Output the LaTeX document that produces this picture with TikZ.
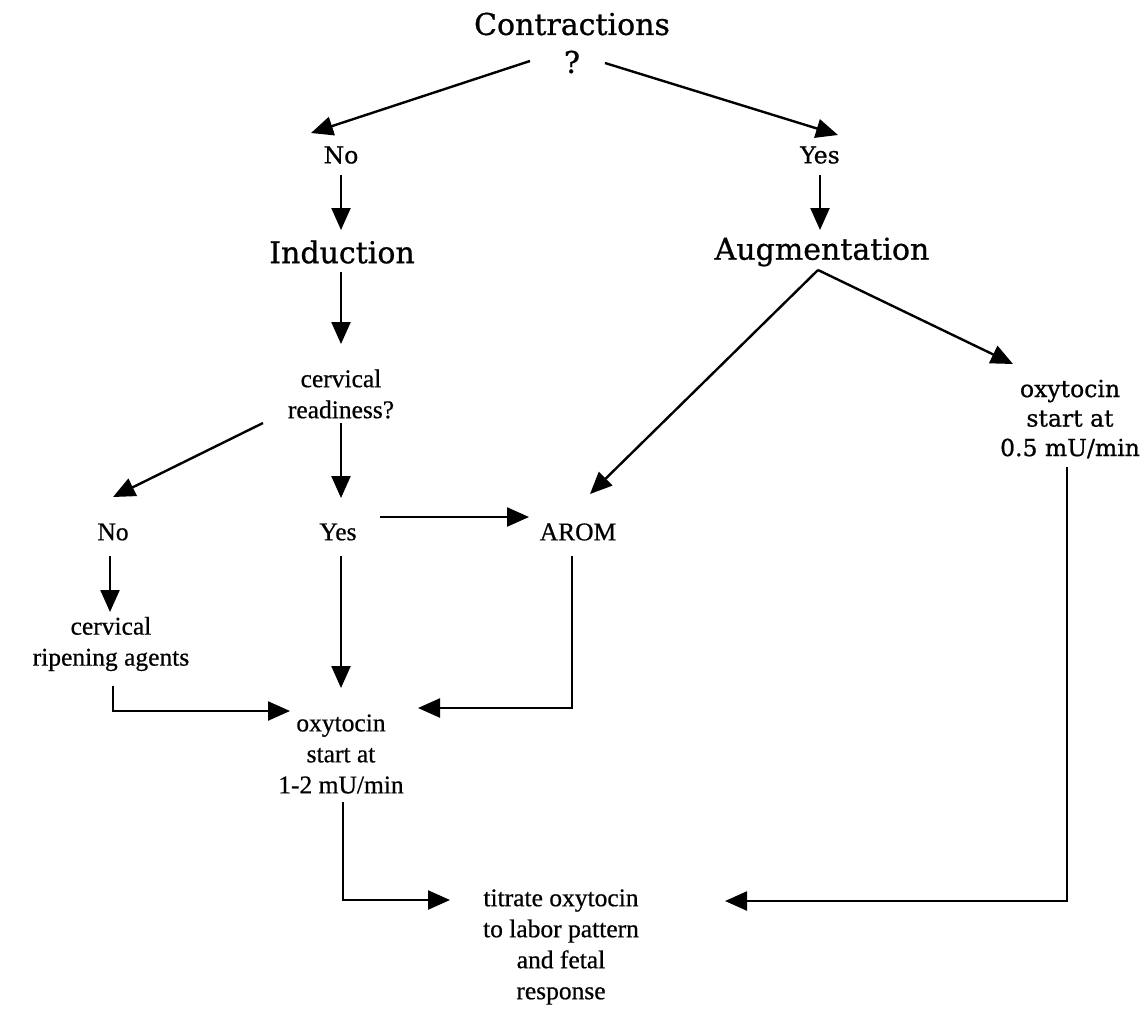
\documentclass[tikz,border=0pt]{standalone}
\usepackage{fontspec}
\setmainfont[FakeBold=0.6]{Liberation Serif}
\newfontfamily\bkfont[FakeBold=0.8]{DejaVu Serif}
\usetikzlibrary{arrows.meta,calc}
\begin{document}
\begin{tikzpicture}[x=1pt,y=-1pt,
  arr/.style={line width=2.4pt,-{Triangle[length=22pt,width=19pt]}},
  big/.style={inner sep=0pt,align=center,font=\bkfont\fontsize{30}{38}\selectfont},
  mid/.style={inner sep=0pt,align=center,font=\bkfont\fontsize{23.5}{29.5}\selectfont},
  txt/.style={inner sep=0pt,align=center,font=\fontsize{25.5}{31}\selectfont}]
\useasboundingbox[fill=white] (0,0) rectangle (1147,1012);

% nodes
\node[big] (contr) at (572,43) {Contractions\\?};
\node[mid] (noA)  at (341,155) {No};
\node[mid] (yesA) at (820,155) {Yes};
\node[big] (ind)  at (342,252) {Induction};
\node[big] (aug)  at (822,252) {Augmentation};
\node[txt] (ready) at (341,394) {cervical\\readiness?};
\node[txt] (noB)  at (113,532) {No};
\node[txt] (yesB) at (338,532) {Yes};
\node[txt] (arom) at (578,532) {AROM};
\node[mid] (oxyR) at (1070,419) {oxytocin\\start at\\0.5 mU/min};
\node[txt] (ripen) at (111,644) {cervical\\ripening agents};
\node[txt] (oxyL) at (341,754) {oxytocin\\start at\\1-2 mU/min};
\node[txt] (titr) at (561,947) {titrate oxytocin\\to labor pattern\\and fetal\\response};

% connectors
\draw[arr] ($(contr)+(-42,18)$) -- ($(noA)+(-30,-22)$);
\draw[arr] ($(contr)+(33,20)$) -- ($(yesA)+(18,-20)$);
\draw[arr] ($(noA)+(0,20)$) -- ($(ind)+(-1,-22)$);
\draw[arr] ($(yesA)+(0,20)$) -- ($(aug)+(-2,-22)$);
\draw[arr] ($(ind)+(-1,20)$) -- ($(ready)+(0,-50)$);
\draw[arr] ($(ready)+(-78,29)$) -- ($(noB)+(0,-35)$);
\draw[arr] ($(ready)+(0,29)$) -- ($(yesB)+(3,-34)$);
\draw[arr] ($(yesB)+(42,-15)$) -- ($(arom)+(-49,-15)$);
\draw[arr] ($(aug)+(-4,18)$) -- ($(arom)+(12,-38)$);
\draw[arr] ($(aug)+(-4,18)$) -- ($(oxyR)+(-57,-55)$);
\draw[arr] ($(noB)+(-3,24)$) -- ($(ripen)+(-1,-32)$);
\draw[arr] ($(ripen)+(2,42)$) |- ($(oxyL)+(-51,-43)$);
\draw[arr] ($(yesB)+(3,24)$) -- ($(oxyL)+(0,-66)$);
\draw[arr] ($(arom)+(-6,24)$) |- ($(oxyL)+(77,-46)$);
\draw[arr] ($(oxyL)+(2,48)$) |- ($(titr)+(-111,-47)$);
\draw[arr] ($(oxyR)+(-3,48)$) |- ($(titr)+(164,-46)$);
\end{tikzpicture}
\end{document}
